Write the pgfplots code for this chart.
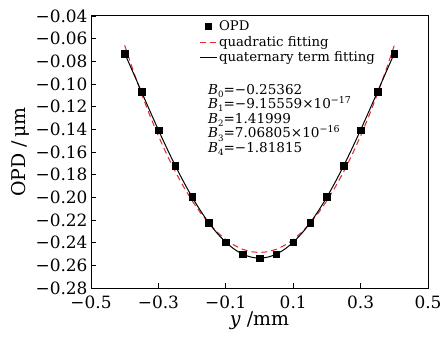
\documentclass[border=0pt]{standalone}
\usepackage{fontspec}
\setmainfont{DejaVu Serif}
\usepackage{pgfplots}
\pgfplotsset{compat=1.18}
\definecolor{fitred}{RGB}{220,40,45}
\newcommand\Bs[1]{\textit{B}\raisebox{-0.45ex}[0pt][0pt]{\fontsize{8.7}{8.7}\selectfont #1}}
\begin{document}
\begin{tikzpicture}
\begin{axis}[
  scale only axis, width=337bp, height=272bp,
  clip=false,
  xmin=-0.5, xmax=0.5, ymin=-0.28, ymax=-0.04,
  xtick={-0.5,-0.3,-0.1,0.1,0.3,0.5},
  xticklabels={−0.5,−0.3,−0.1,0.1,0.3,0.5},
  ytick={-0.28,-0.26,-0.24,-0.22,-0.20,-0.18,-0.16,-0.14,-0.12,-0.10,-0.08,-0.06,-0.04},
  yticklabels={−0.28,−0.26,−0.24,−0.22,−0.20,−0.18,−0.16,−0.14,−0.12,−0.10,−0.08,−0.06,−0.04},
  tick pos=left, tick align=inside,
  major tick length=5bp,
  axis line style={line width=1bp},
  tick style={line width=0.9bp, black},
  ticklabel style={font=\fontsize{17}{17}\selectfont},
  xticklabel style={yshift=-4.5bp},
  xlabel={\textit{y} /mm}, ylabel={OPD /\,μm},
  label style={font=\fontsize{19}{19}\selectfont},
  xlabel style={yshift=4bp},
  ylabel style={yshift=-1bp},
  legend style={draw=none, fill=none, at={(rel axis cs:0.32,0.99)}, anchor=north west,
    font=\fontsize{13.3}{15}\selectfont, row sep=0bp, inner sep=0pt, column sep=0pt},
  legend cell align=left,
]
\addplot[fitred, line width=1bp, dash pattern=on 6bp off 4bp, forget plot] coordinates {
(-0.4,-0.06588) (-0.375,-0.08802) (-0.35,-0.10873) (-0.325,-0.12801) (-0.3,-0.14587)
(-0.275,-0.16229) (-0.25,-0.17729) (-0.225,-0.19086) (-0.2,-0.20300) (-0.175,-0.21371)
(-0.15,-0.22300) (-0.125,-0.23086) (-0.1,-0.23728) (-0.075,-0.24228) (-0.05,-0.24585)
(-0.025,-0.24800) (0,-0.24871) (0.025,-0.24800) (0.05,-0.24585) (0.075,-0.24228)
(0.1,-0.23728) (0.125,-0.23086) (0.15,-0.22300) (0.175,-0.21371) (0.2,-0.20300)
(0.225,-0.19086) (0.25,-0.17729) (0.275,-0.16229) (0.3,-0.14587) (0.325,-0.12801)
(0.35,-0.10873) (0.375,-0.08802) (0.4,-0.06588)};
\addplot[black, line width=1bp, smooth, forget plot] coordinates {
(-0.4,-0.07297) (-0.375,-0.08989) (-0.35,-0.10696) (-0.325,-0.12392) (-0.3,-0.14055)
(-0.275,-0.15663) (-0.25,-0.17197) (-0.225,-0.18639) (-0.2,-0.19973) (-0.175,-0.21184)
(-0.15,-0.22259) (-0.125,-0.23188) (-0.1,-0.23960) (-0.075,-0.24569) (-0.05,-0.25008)
(-0.025,-0.25273) (0,-0.25362) (0.025,-0.25273) (0.05,-0.25008) (0.075,-0.24569)
(0.1,-0.23960) (0.125,-0.23188) (0.15,-0.22259) (0.175,-0.21184) (0.2,-0.19973)
(0.225,-0.18639) (0.25,-0.17197) (0.275,-0.15663) (0.3,-0.14055) (0.325,-0.12392)
(0.35,-0.10696) (0.375,-0.08989) (0.4,-0.07297)};
\addplot[only marks, mark=square*, mark size=3.3bp, black, forget plot] coordinates {
(-0.4,-0.0730) (-0.35,-0.1070) (-0.3,-0.1406) (-0.25,-0.1720) (-0.2,-0.1997)
(-0.15,-0.2226) (-0.1,-0.2396) (-0.05,-0.2501) (0,-0.2536) (0.05,-0.2501)
(0.1,-0.2396) (0.15,-0.2226) (0.2,-0.1997) (0.25,-0.1720) (0.3,-0.1406)
(0.35,-0.1070) (0.4,-0.0730)};
\addlegendimage{only marks, mark=square*, mark size=3bp, black}
\addlegendentry{OPD}
\addlegendimage{fitred, line width=1bp, dash pattern=on 6bp off 4bp}
\addlegendentry{quadratic fitting}
\addlegendimage{black, line width=1bp}
\addlegendentry{quaternary term fitting}
\node[anchor=north west, align=left, inner sep=0pt, font=\fontsize{13.6}{14.6}\selectfont]
  at (rel axis cs:0.347,0.75)
  {\Bs{0}=−0.25362\\ \Bs{1}=−9.15559×10\textsuperscript{−17}\\ \Bs{2}=1.41999\\
   \Bs{3}=7.06805×10\textsuperscript{−16}\\ \Bs{4}=−1.81815};
\coordinate (sw) at (rel axis cs:0,0);
\coordinate (ne) at (rel axis cs:1,1);
\end{axis}
\pgfresetboundingbox
\path[use as bounding box] ([shift={(-91bp,-50bp)}]sw) rectangle ([shift={(15bp,16bp)}]ne);
\end{tikzpicture}
\end{document}
